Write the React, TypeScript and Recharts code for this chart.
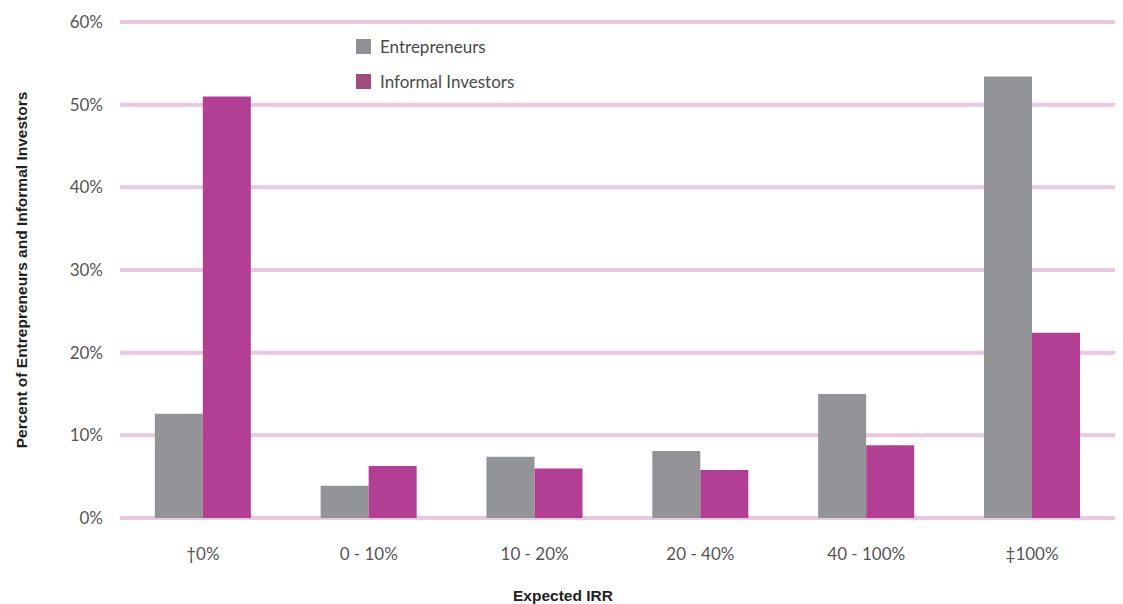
import React from "react";
import {
  BarChart,
  Bar,
  XAxis,
  YAxis,
  CartesianGrid,
  Label,
} from "recharts";

const CATEGORIES = ["†0%", "0 - 10%", "10 - 20%", "20 - 40%", "40 - 100%", "‡100%"];
const ENTREPRENEURS = [12.6, 3.9, 7.4, 8.1, 15.0, 53.4];
const INFORMAL_INVESTORS = [51.0, 6.3, 6.0, 5.8, 8.8, 22.4];
const Y_TICKS = [0, 10, 20, 30, 40, 50, 60];

const data = CATEGORIES.map((name, i) => ({
  name,
  entrepreneurs: ENTREPRENEURS[i],
  investors: INFORMAL_INVESTORS[i],
}));

const TICK_FONT = "Lato, 'Open Sans', sans-serif";
const LABEL_FONT = "'Liberation Sans', Arial, sans-serif";

const legendItems = [
  { label: "Entrepreneurs", color: "#909195" },
  { label: "Informal Investors", color: "#a04c7c" },
];

// drawn as an overlay so the plot area keeps its full height
function LegendBox() {
  return (
    <div
      style={{
        position: "absolute",
        left: 356,
        top: 29,
        fontFamily: TICK_FONT,
        fontSize: 17,
        color: "#4a4a4a",
      }}
    >
      {legendItems.map((it) => (
        <div
          key={it.label}
          style={{ display: "flex", alignItems: "center", height: 35 }}
        >
          <span
            style={{
              width: 15,
              height: 15,
              background: it.color,
              display: "inline-block",
              marginRight: 9,
            }}
          />
          {it.label}
        </div>
      ))}
    </div>
  );
}

export default function App() {
  return (
    <div style={{ position: "relative", width: 1123, height: 604, background: "#fff" }}>
      <style>{"body{margin:0}"}</style>
      <BarChart
        width={1123}
        height={604}
        data={data}
        margin={{ top: 22, right: 8, left: 0, bottom: 0 }}
        barCategoryGap="21%"
        barGap={0}
      >
        <CartesianGrid vertical={false} stroke="#e9c8e1" strokeWidth={4} />
        <XAxis
          dataKey="name"
          height={86}
          axisLine={false}
          tickLine={false}
          tickMargin={24}
          tick={{ fontFamily: TICK_FONT, fontSize: 17, fill: "#555" }}
        >
          <Label
            content={() => (
              <text
                x={563}
                y={601}
                textAnchor="middle"
                fontFamily={LABEL_FONT}
                fontWeight="bold"
                fontSize={15.5}
                fill="#222"
              >
                Expected IRR
              </text>
            )}
          />
        </XAxis>
        <YAxis
          width={120}
          domain={[0, 60]}
          ticks={Y_TICKS}
          axisLine={false}
          tickLine={false}
          tickMargin={11}
          tickFormatter={(v: number) => `${v}%`}
          tick={{ fontFamily: TICK_FONT, fontSize: 17, fill: "#555" }}
        >
          <Label
            content={() => (
              <text
                x={21}
                y={270}
                transform="rotate(-90 21 270)"
                textAnchor="middle"
                dominantBaseline="central"
                fontFamily={LABEL_FONT}
                fontWeight="bold"
                fontSize={15.5}
                fill="#222"
              >
                Percent of Entrepreneurs and Informal Investors
              </text>
            )}
          />
        </YAxis>
        <Bar
          dataKey="entrepreneurs"
          name="Entrepreneurs"
          fill="#939497"
          isAnimationActive={false}
        />
        <Bar
          dataKey="investors"
          name="Informal Investors"
          fill="#b33f95"
          isAnimationActive={false}
        />
      </BarChart>
      <LegendBox />
    </div>
  );
}
